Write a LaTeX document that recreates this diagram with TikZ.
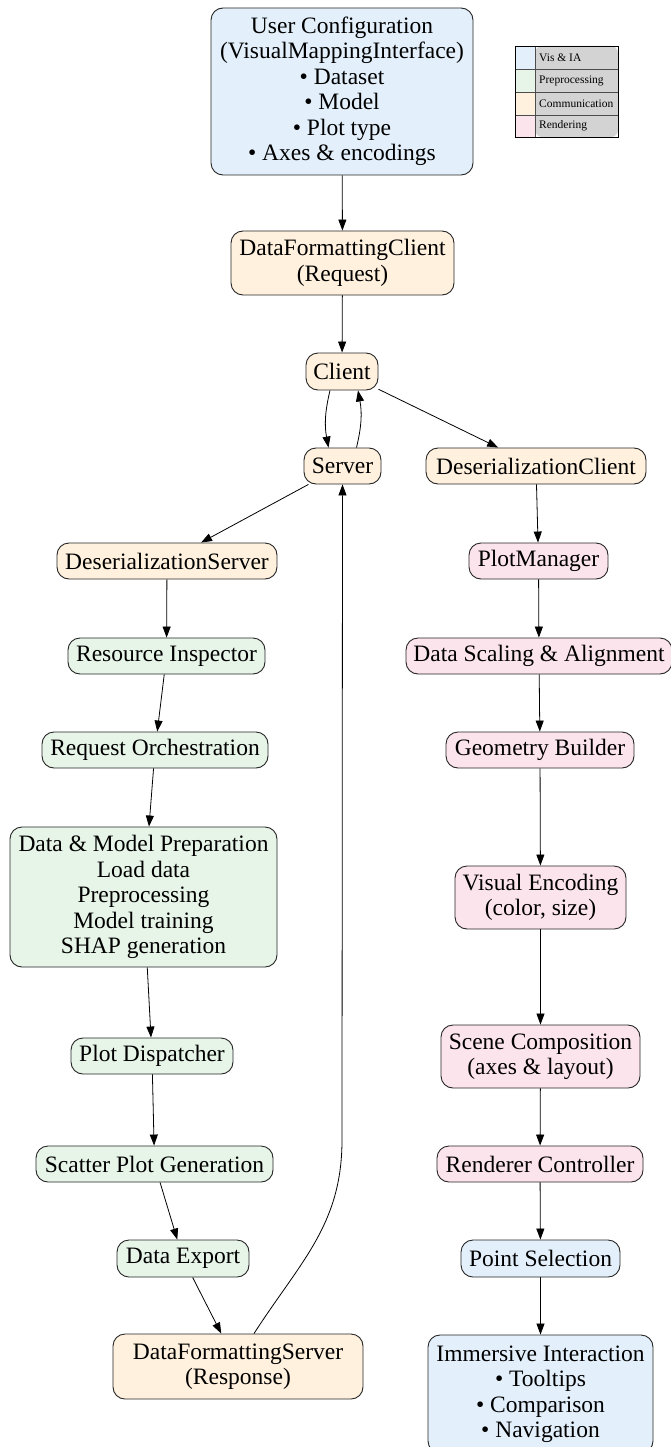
\documentclass[tikz,border=0pt]{standalone}
\usepackage{fontspec}
\setmainfont{Liberation Serif}
\usetikzlibrary{arrows.meta,calc}
\definecolor{cblue}{HTML}{E3F0FB}
\definecolor{cgreen}{HTML}{E7F4E8}
\definecolor{corange}{HTML}{FFF1DE}
\definecolor{cpink}{HTML}{FCE4EC}
\definecolor{lgray}{HTML}{D3D3D3}
\tikzset{
  box/.style={draw=black!85, line width=0.9pt, rounded corners=12pt, align=center, inner sep=0pt,
    font=\fontsize{23.5}{25.5}\selectfont},
  vis/.style={box, fill=cblue},
  pre/.style={box, fill=cgreen},
  com/.style={box, fill=corange},
  ren/.style={box, fill=cpink},
  arr/.style={-{Triangle[length=11pt,width=8pt]}, line width=0.8pt},
  legtext/.style={font=\fontsize{11.5}{13}\selectfont, anchor=west, inner sep=0pt}
}
\begin{document}
\begin{tikzpicture}[x=1pt,y=-1pt]
\useasboundingbox[fill=white] (0,0) rectangle (671,1447);
% nodes
\node[vis, minimum width=262pt, minimum height=167pt] (uc) at (342,91.5)
  {User Configuration\\(VisualMappingInterface)\\• Dataset\\• Model\\• Plot type\\• Axes \& encodings};
\node[com, minimum width=223pt, minimum height=64pt] (dfc) at (342.5,263) {DataFormattingClient\\(Request)};
\node[com, minimum width=72pt, minimum height=37pt] (client) at (342,371.5) {Client};
\node[com, minimum width=77pt, minimum height=36pt] (server) at (342.5,466) {Server};
\node[com, minimum width=220pt, minimum height=36pt] (dclient) at (536,466) {DeserializationClient};
\node[com, minimum width=220pt, minimum height=36pt] (dserver) at (167,561) {DeserializationServer};
\node[ren, minimum width=139pt, minimum height=36pt] (pm) at (538.5,561) {PlotManager};
\node[pre, minimum width=197pt, minimum height=36pt] (ri) at (166.5,656) {Resource Inspector};
\node[ren, minimum width=266pt, minimum height=36pt] (dsa) at (539,656) {Data Scaling \& Alignment};
\node[pre, minimum width=226pt, minimum height=36pt] (ro) at (155,750) {Request Orchestration};
\node[ren, minimum width=188pt, minimum height=36pt] (gb) at (540,750) {Geometry Builder};
\node[pre, minimum width=267pt, minimum height=140pt] (dmp) at (143.5,897)
  {Data \& Model Preparation\\Load data\\Preprocessing\\Model training\\SHAP generation};
\node[ren, minimum width=171pt, minimum height=63pt] (ve) at (540.5,897.5) {Visual Encoding\\(color, size)};
\node[pre, minimum width=162pt, minimum height=36pt] (pd) at (152,1056) {Plot Dispatcher};
\node[ren, minimum width=199pt, minimum height=63pt] (sc) at (540.5,1056.5) {Scene Composition\\(axes \& layout)};
\node[pre, minimum width=237pt, minimum height=36pt] (spg) at (154.5,1164) {Scatter Plot Generation};
\node[ren, minimum width=206pt, minimum height=36pt] (rc) at (540,1164) {Renderer Controller};
\node[pre, minimum width=132pt, minimum height=37pt] (de) at (183,1258.5) {Data Export};
\node[vis, minimum width=159pt, minimum height=37pt] (ps) at (540.5,1258.5) {Point Selection};
\node[com, minimum width=250pt, minimum height=65pt] (dfs) at (238,1366.5) {DataFormattingServer\\(Response)};
\node[vis, minimum width=225pt, minimum height=118pt] (ii) at (540.5,1394) {Immersive Interaction\\• Tooltips\\• Comparison\\• Navigation};
% legend
\fill[lgray, rounded corners=7pt] (535,46) rectangle (618,137);
\fill[cblue] (515,46) rectangle (535,69);
\fill[cgreen] (515,69) rectangle (535,92);
\fill[corange] (515,92) rectangle (535,115);
\fill[cpink] (515,115) rectangle (535,137);
\draw[black!70, line width=0.6pt] (515,69) -- (618,69) (515,92) -- (618,92) (515,115) -- (618,115) (535,46) -- (535,137);
\draw[black, line width=0.8pt] (515,46) rectangle (618,137);
\node[legtext] (l1) at (539,57.5) {Vis \& IA};
\node[legtext] (l2) at (539,80.5) {Preprocessing};
\node[legtext] (l3) at (539,103.5) {Communication};
\node[legtext] (l4) at (539,126) {Rendering};
% edges
\draw[arr] (uc) -- (dfc);
\draw[arr] (dfc) -- (client);
\draw[arr] ([xshift=-12pt]client.south) to[bend right=12] ([xshift=-14pt]server.north);
\draw[arr] ([xshift=14pt]server.north) to[bend right=12] ([xshift=16pt]client.south);
\draw[arr] (client) -- (dclient);
\draw[arr] (server) -- (dserver);
\draw[arr] (dserver) -- (ri);
\draw[arr] (ri) -- (ro);
\draw[arr] (ro) -- (dmp);
\draw[arr] (dmp) -- (pd);
\draw[arr] (pd) -- (spg);
\draw[arr] (spg) -- (de);
\draw[arr] (de) -- (dfs);
\draw[arr] ([xshift=16pt]dfs.north) .. controls (300,1262) and (342,1225) .. (342,1140) -- (server.south);
\draw[arr] (dclient) -- (pm);
\draw[arr] (pm) -- (dsa);
\draw[arr] (dsa) -- (gb);
\draw[arr] (gb) -- (ve);
\draw[arr] (ve) -- (sc);
\draw[arr] (sc) -- (rc);
\draw[arr] (rc) -- (ps);
\draw[arr] (ps) -- (ii);
\end{tikzpicture}
\end{document}
